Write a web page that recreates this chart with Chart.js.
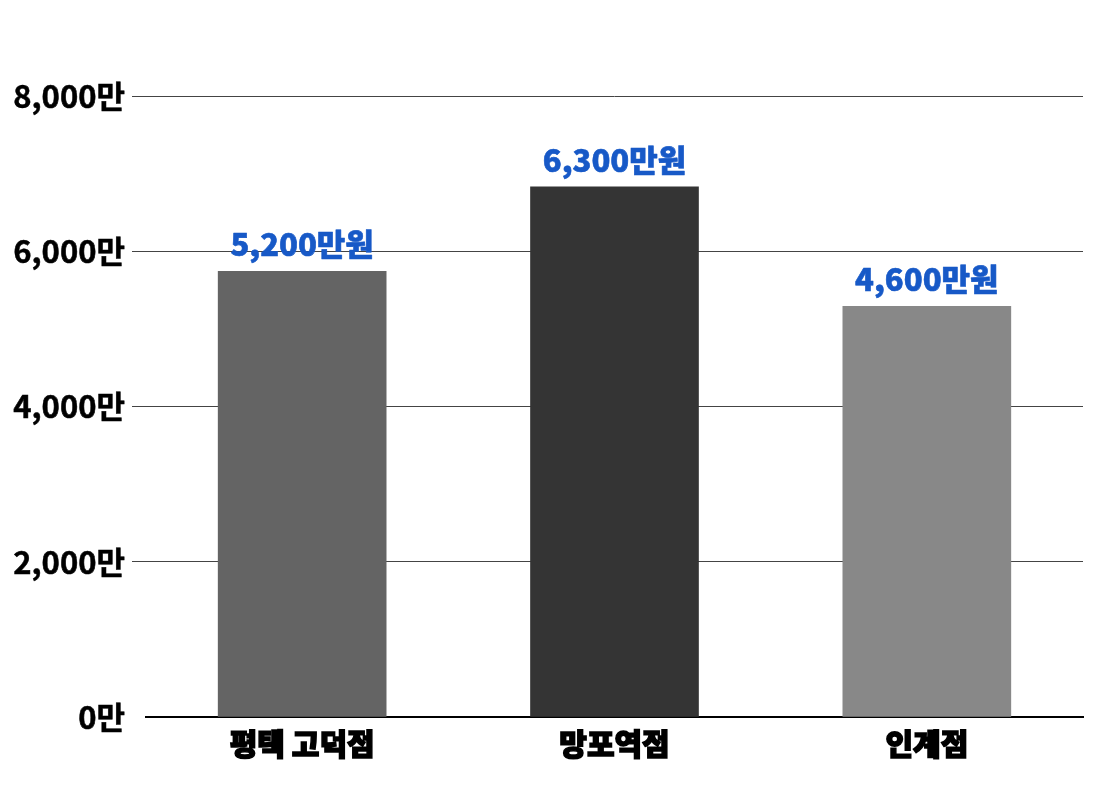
<!DOCTYPE html>
<html>
<head>
<meta charset="utf-8">
<script src="https://cdn.jsdelivr.net/npm/chart.js@4"></script>
<style>
  html, body { margin: 0; padding: 0; background: #ffffff; }
  #wrap { width: 1100px; height: 800px; }
</style>
</head>
<body>
<div id="wrap"><canvas id="c" width="1100" height="800"></canvas></div>
<script>
const categories = ['평택 고덕점', '망포역점', '인계점'];
const barValues = [5740, 6830, 5290];
const valueLabels = ['5,200만원', '6,300만원', '4,600만원'];
const barColors = ['#646464', '#343434', '#888888'];
const yTickValues = [0, 2000, 4000, 6000, 8000];
const yTickLabels = ['0만', '2,000만', '4,000만', '6,000만', '8,000만'];

const FONT = "'Noto Sans CJK KR', 'Noto Sans', sans-serif";

const valueLabelPlugin = {
  id: 'valueLabels',
  afterDatasetsDraw(chart) {
    const ctx = chart.ctx;
    const meta = chart.getDatasetMeta(0);
    ctx.save();
    ctx.font = "900 31px " + FONT;
    ctx.fillStyle = '#1759c7';
    ctx.strokeStyle = '#1759c7';
    ctx.lineWidth = 0.6;
    ctx.lineJoin = 'round';
    ctx.textAlign = 'center';
    ctx.textBaseline = 'alphabetic';
    meta.data.forEach((bar, i) => {
      ctx.fillText(valueLabels[i], bar.x, bar.y - 15);
      ctx.strokeText(valueLabels[i], bar.x, bar.y - 15);
    });
    ctx.restore();
  }
};

new Chart(document.getElementById('c'), {
  type: 'bar',
  data: {
    labels: categories,
    datasets: [{
      data: barValues,
      backgroundColor: barColors,
      borderWidth: 0,
      barThickness: 168
    }]
  },
  options: {
    responsive: false,
    animation: false,
    events: [],
    layout: { padding: { top: 96, right: 17, bottom: 0, left: 0 } },
    plugins: { legend: { display: false }, tooltip: { enabled: false } },
    scales: {
      x: {
        grid: { display: false },
        border: { display: true, color: '#000000', width: 2 },
        ticks: {
          color: '#000000',
          padding: 1,
          textStrokeColor: '#000000',
          textStrokeWidth: 1.5,
          font: { family: FONT, size: 30, weight: '900' }
        },
        afterFit(scale) { scale.height = 83; }
      },
      y: {
        min: 0,
        max: 8000,
        afterBuildTicks(scale) { scale.ticks = yTickValues.map(v => ({ value: v })); },
        border: { display: false },
        grid: {
          color: (c) => (c.tick && c.tick.value === 0) ? 'rgba(0,0,0,0)' : '#444444',
          lineWidth: 1,
          drawTicks: true,
          tickLength: 14
        },
        ticks: {
          color: '#000000',
          padding: 7,
          textStrokeColor: '#000000',
          textStrokeWidth: 0.5,
          font: { family: FONT, size: 31, weight: '700' },
          callback: (v) => yTickLabels[yTickValues.indexOf(v)]
        },
        afterFit(scale) { scale.width = 146; }
      }
    }
  },
  plugins: [valueLabelPlugin]
});
</script>
</body>
</html>
